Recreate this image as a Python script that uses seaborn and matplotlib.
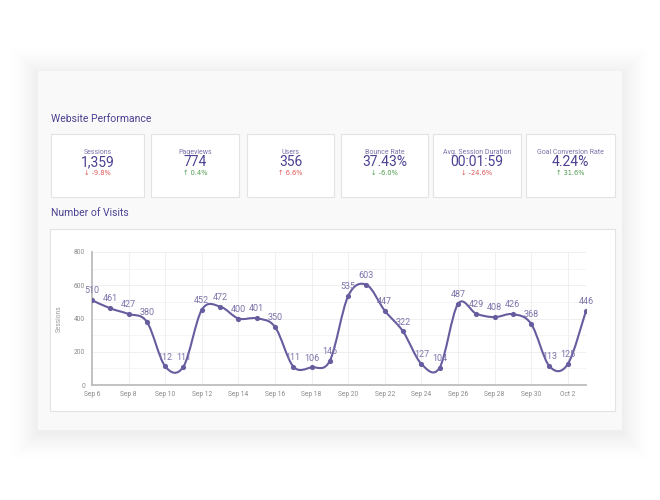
import matplotlib
matplotlib.use("Agg")
import matplotlib.pyplot as plt
import seaborn as sns
import pandas as pd
from matplotlib.patches import Rectangle, PathPatch, FancyBboxPatch
from matplotlib.path import Path

# ---------------- data ----------------
dates = ["Sep 6", "Sep 7", "Sep 8", "Sep 9", "Sep 10", "Sep 11", "Sep 12", "Sep 13",
         "Sep 14", "Sep 15", "Sep 16", "Sep 17", "Sep 18", "Sep 19", "Sep 20", "Sep 21",
         "Sep 22", "Sep 23", "Sep 24", "Sep 25", "Sep 26", "Sep 27", "Sep 28", "Sep 29",
         "Sep 30", "Oct 1", "Oct 2", "Oct 3"]
visits = [510, 461, 427, 380, 112, 111, 452, 472, 400, 401, 350, 111, 106, 146,
          535, 603, 447, 322, 127, 104, 487, 429, 408, 426, 368, 113, 125, 446]
y_ticks = [0, 200, 400, 600, 800]

kpi_titles = ["Sessions", "Pageviews", "Users", "Bounce Rate",
              "Avg. Session Duration", "Goal Conversion Rate"]
kpi_values = ["1,359", "774", "356", "37.43%", "00:01:59", "4.24%"]
kpi_changes = ["-9.8%", "0.4%", "6.6%", "-6.0%", "-24.6%", "31.6%"]
kpi_good = [False, True, False, True, False, True]

# ---------------- style ----------------
sns.set_style("white")
plt.rcParams["font.family"] = ["Roboto", "DejaVu Sans"]

W, H = 660, 500
fig = plt.figure(figsize=(W / 100, H / 100), dpi=100)
fig.patch.set_facecolor("white")

def fx(x):
    return x / W

def fy(y):
    return 1 - y / H

def frect(x0, y0, x1, y1, **kw):
    r = Rectangle((fx(x0), fy(y1)), fx(x1 - x0), (y1 - y0) / H,
                  transform=fig.transFigure, **kw)
    fig.add_artist(r)
    return r

# soft glow shadow around main panel (opaque gradient layers, outer to inner)
N = 30
for i in range(N, 0, -1):
    x0, y0, x1, y1 = 38, 74, 622, 433
    g = 255 - 17 * (1 - i / N) ** 1.6
    c = (g / 255, g / 255, g / 255)
    px = i * 1.0
    p = FancyBboxPatch((fx(x0 - px), fy(y1 + px)), fx(x1 - x0 + 2 * px), (y1 - y0 + 2 * px) / H,
                       boxstyle="square,pad=0", transform=fig.transFigure,
                       facecolor=c, edgecolor="none", zorder=0)
    fig.add_artist(p)
# panel
frect(38, 71, 622, 430, facecolor="#f9f9f9", edgecolor="none", zorder=1)

purple_dark = "#4a4191"
purple_mid = "#7b73ab"
line_col = "#665d9f"

fig.text(fx(51), fy(119), "Website Performance", fontsize=7.5, color=purple_dark,
         va="center", ha="left", zorder=5)
fig.text(fx(51), fy(213), "Number of Visits", fontsize=7.5, color=purple_dark,
         va="center", ha="left", zorder=5)

# KPI boxes
box_x = [(51, 144), (151, 239), (247, 334), (341, 428), (433, 521), (526, 615)]
for (x0, x1), t, v, c, good in zip(box_x, kpi_titles, kpi_values, kpi_changes, kpi_good):
    frect(x0, 134, x1, 197, facecolor="white", edgecolor="#e3e3e3", lw=0.8, zorder=2)
    cx = fx((x0 + x1) / 2)
    fig.text(cx, fy(152), t, fontsize=5, color=purple_mid, ha="center", va="center", zorder=5)
    fig.text(cx, fy(162), v, fontsize=10, color=purple_dark, ha="center", va="center", zorder=5)
    col = "#4b9a4b" if good else "#e05555"
    arrow = "↑" if not c.startswith("-") else "↓"
    fig.text(cx, fy(173), arrow + " " + c, fontsize=4.8, color=col, ha="center",
             va="center", zorder=5, family=["DejaVu Sans"])

# chart box
frect(50, 229, 615, 411, facecolor="white", edgecolor="#e3e3e3", lw=0.8, zorder=2)

# ---------------- chart ----------------
ax = fig.add_axes([fx(92), fy(385), fx(586 - 92), (385 - 252) / H])
ax.set_zorder(3)
ax.patch.set_alpha(0)

df = pd.DataFrame({"idx": range(len(dates)), "date": dates, "visits": visits})

# smooth spline (Catmull-Rom as cubic Bezier) through the data points
pts = list(zip(df["idx"], df["visits"]))
verts = [pts[0]]
codes = [Path.MOVETO]
n = len(pts)
for i in range(n - 1):
    p0 = pts[i - 1] if i > 0 else pts[i]
    p1 = pts[i]
    p2 = pts[i + 1]
    p3 = pts[i + 2] if i + 2 < n else pts[i + 1]
    c1 = (p1[0] + (p2[0] - p0[0]) / 6, p1[1] + (p2[1] - p0[1]) / 6)
    c2 = (p2[0] - (p3[0] - p1[0]) / 6, p2[1] - (p3[1] - p1[1]) / 6)
    verts += [c1, c2, p2]
    codes += [Path.CURVE4] * 3
ax.add_patch(PathPatch(Path(verts, codes), facecolor="none", edgecolor=line_col,
                       lw=1.5, zorder=3, capstyle="round", joinstyle="round"))

sns.scatterplot(data=df, x="idx", y="visits", ax=ax, color=line_col, s=14,
                edgecolor=line_col, linewidth=0, zorder=4, legend=False)

for i, v in zip(df["idx"], df["visits"]):
    ax.annotate(str(v), (i, v), xytext=(0, 3.5), textcoords="offset points",
                ha="center", va="bottom", fontsize=6.5, color=purple_mid, zorder=5)

ax.set_xlim(0, len(dates) - 1)
ax.set_ylim(0, 800)
ax.set_xticks(df["idx"][::2])
ax.set_xticklabels(df["date"][::2])
ax.set_yticks(y_ticks)
ax.set_yticks(range(100, 800, 200), minor=True)
ax.tick_params(axis="both", which="both", length=0, labelsize=4.8, labelcolor="#8a8a8a")
ax.tick_params(axis="x", pad=4)
ax.tick_params(axis="y", pad=5)
ax.grid(True, which="major", color="#ececec", lw=0.6)
ax.grid(True, which="minor", axis="y", color="#f3f3f3", lw=0.6)
for s in ["top", "right"]:
    ax.spines[s].set_visible(False)
for s in ["left", "bottom"]:
    ax.spines[s].set_color("#bdbdbd")
    ax.spines[s].set_linewidth(1.3)
ax.set_xlabel("")
ax.set_ylabel("Sessions", fontsize=4.8, color="#9a9a9a", labelpad=8)

fig.savefig("out.png", dpi=100, facecolor="white")
